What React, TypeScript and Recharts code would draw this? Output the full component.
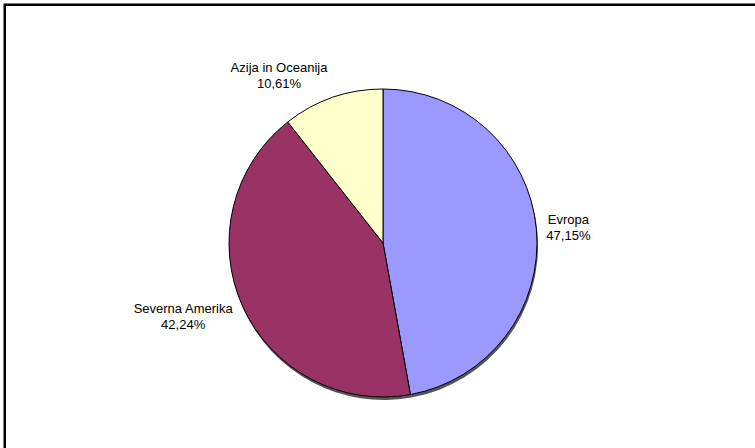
import { Cell, Pie, PieChart } from 'recharts';

const regions = ['Evropa', 'Severna Amerika', 'Azija in Oceanija'];
const shares = [47.15, 42.24, 10.61]; // %
const colors = ['#9999FF', '#993366', '#FFFFCC'];

const data = regions.map((name, i) => ({ name, value: shares[i] }));

const FONT = 'Arial, "Liberation Sans", sans-serif';
const FS = 13;
const RAD = Math.PI / 180;

// rough Arial advance widths, enough to center the two label lines
function textWidth(s: string) {
  let w = 0;
  for (const ch of s) {
    if ('ijlrtf,. I'.includes(ch)) w += 0.28;
    else if ('mwMW'.includes(ch)) w += 0.833;
    else if (ch === '%') w += 0.889;
    else if (ch >= 'A' && ch <= 'Z') w += 0.667;
    else w += 0.556;
  }
  return w * FS;
}

function renderLabel(props: any) {
  const { cx, cy, midAngle, outerRadius, name, value } = props;
  const cos = Math.cos(midAngle * RAD);
  const sin = Math.sin(midAngle * RAD);
  const px = cx + (outerRadius + 10) * cos;
  const py = cy - (outerRadius + 10) * sin;
  const pct = value.toFixed(2).replace('.', ',') + '%';
  const hw = Math.max(textWidth(name), textWidth(pct)) / 2;
  const hh = 14;
  const bx = px + hw * Math.sign(cos);
  const by = py - hh * sin;
  return (
    <text x={bx} y={by} textAnchor="middle" fontFamily={FONT} fontSize={FS} fill="#000">
      <tspan x={bx} dy={-3}>{name}</tspan>
      <tspan x={bx} dy={16}>{pct}</tspan>
    </text>
  );
}

export default function App() {
  return (
    <div style={{ position: 'absolute', left: 0, top: 0, width: 755, height: 448, background: '#fff' }}>
      <svg width={755} height={448} style={{ position: 'absolute', left: 0, top: 0 }}>
        <rect x={4.75} y={4.75} width={800} height={500} fill="none" stroke="#000" strokeWidth={2.5} />
      </svg>
      <div style={{ position: 'absolute', left: 0, top: 0 }}>
        <PieChart width={755} height={448} margin={{ top: 0, right: 0, bottom: 0, left: 0 }}>
          <Pie
            data={data}
            dataKey="value"
            cx={384}
            cy={246}
            outerRadius={154}
            startAngle={90}
            endAngle={-270}
            stroke="none"
            isAnimationActive={false}
          >
            {data.map((d) => (
              <Cell key={d.name} fill="#555" />
            ))}
          </Pie>
          <Pie
            data={data}
            dataKey="value"
            cx={383}
            cy={243}
            outerRadius={154}
            startAngle={90}
            endAngle={-270}
            stroke="#000"
            strokeWidth={1}
            label={renderLabel}
            labelLine={false}
            isAnimationActive={false}
          >
            {data.map((d, i) => (
              <Cell key={d.name} fill={colors[i]} />
            ))}
          </Pie>
        </PieChart>
      </div>
    </div>
  );
}
